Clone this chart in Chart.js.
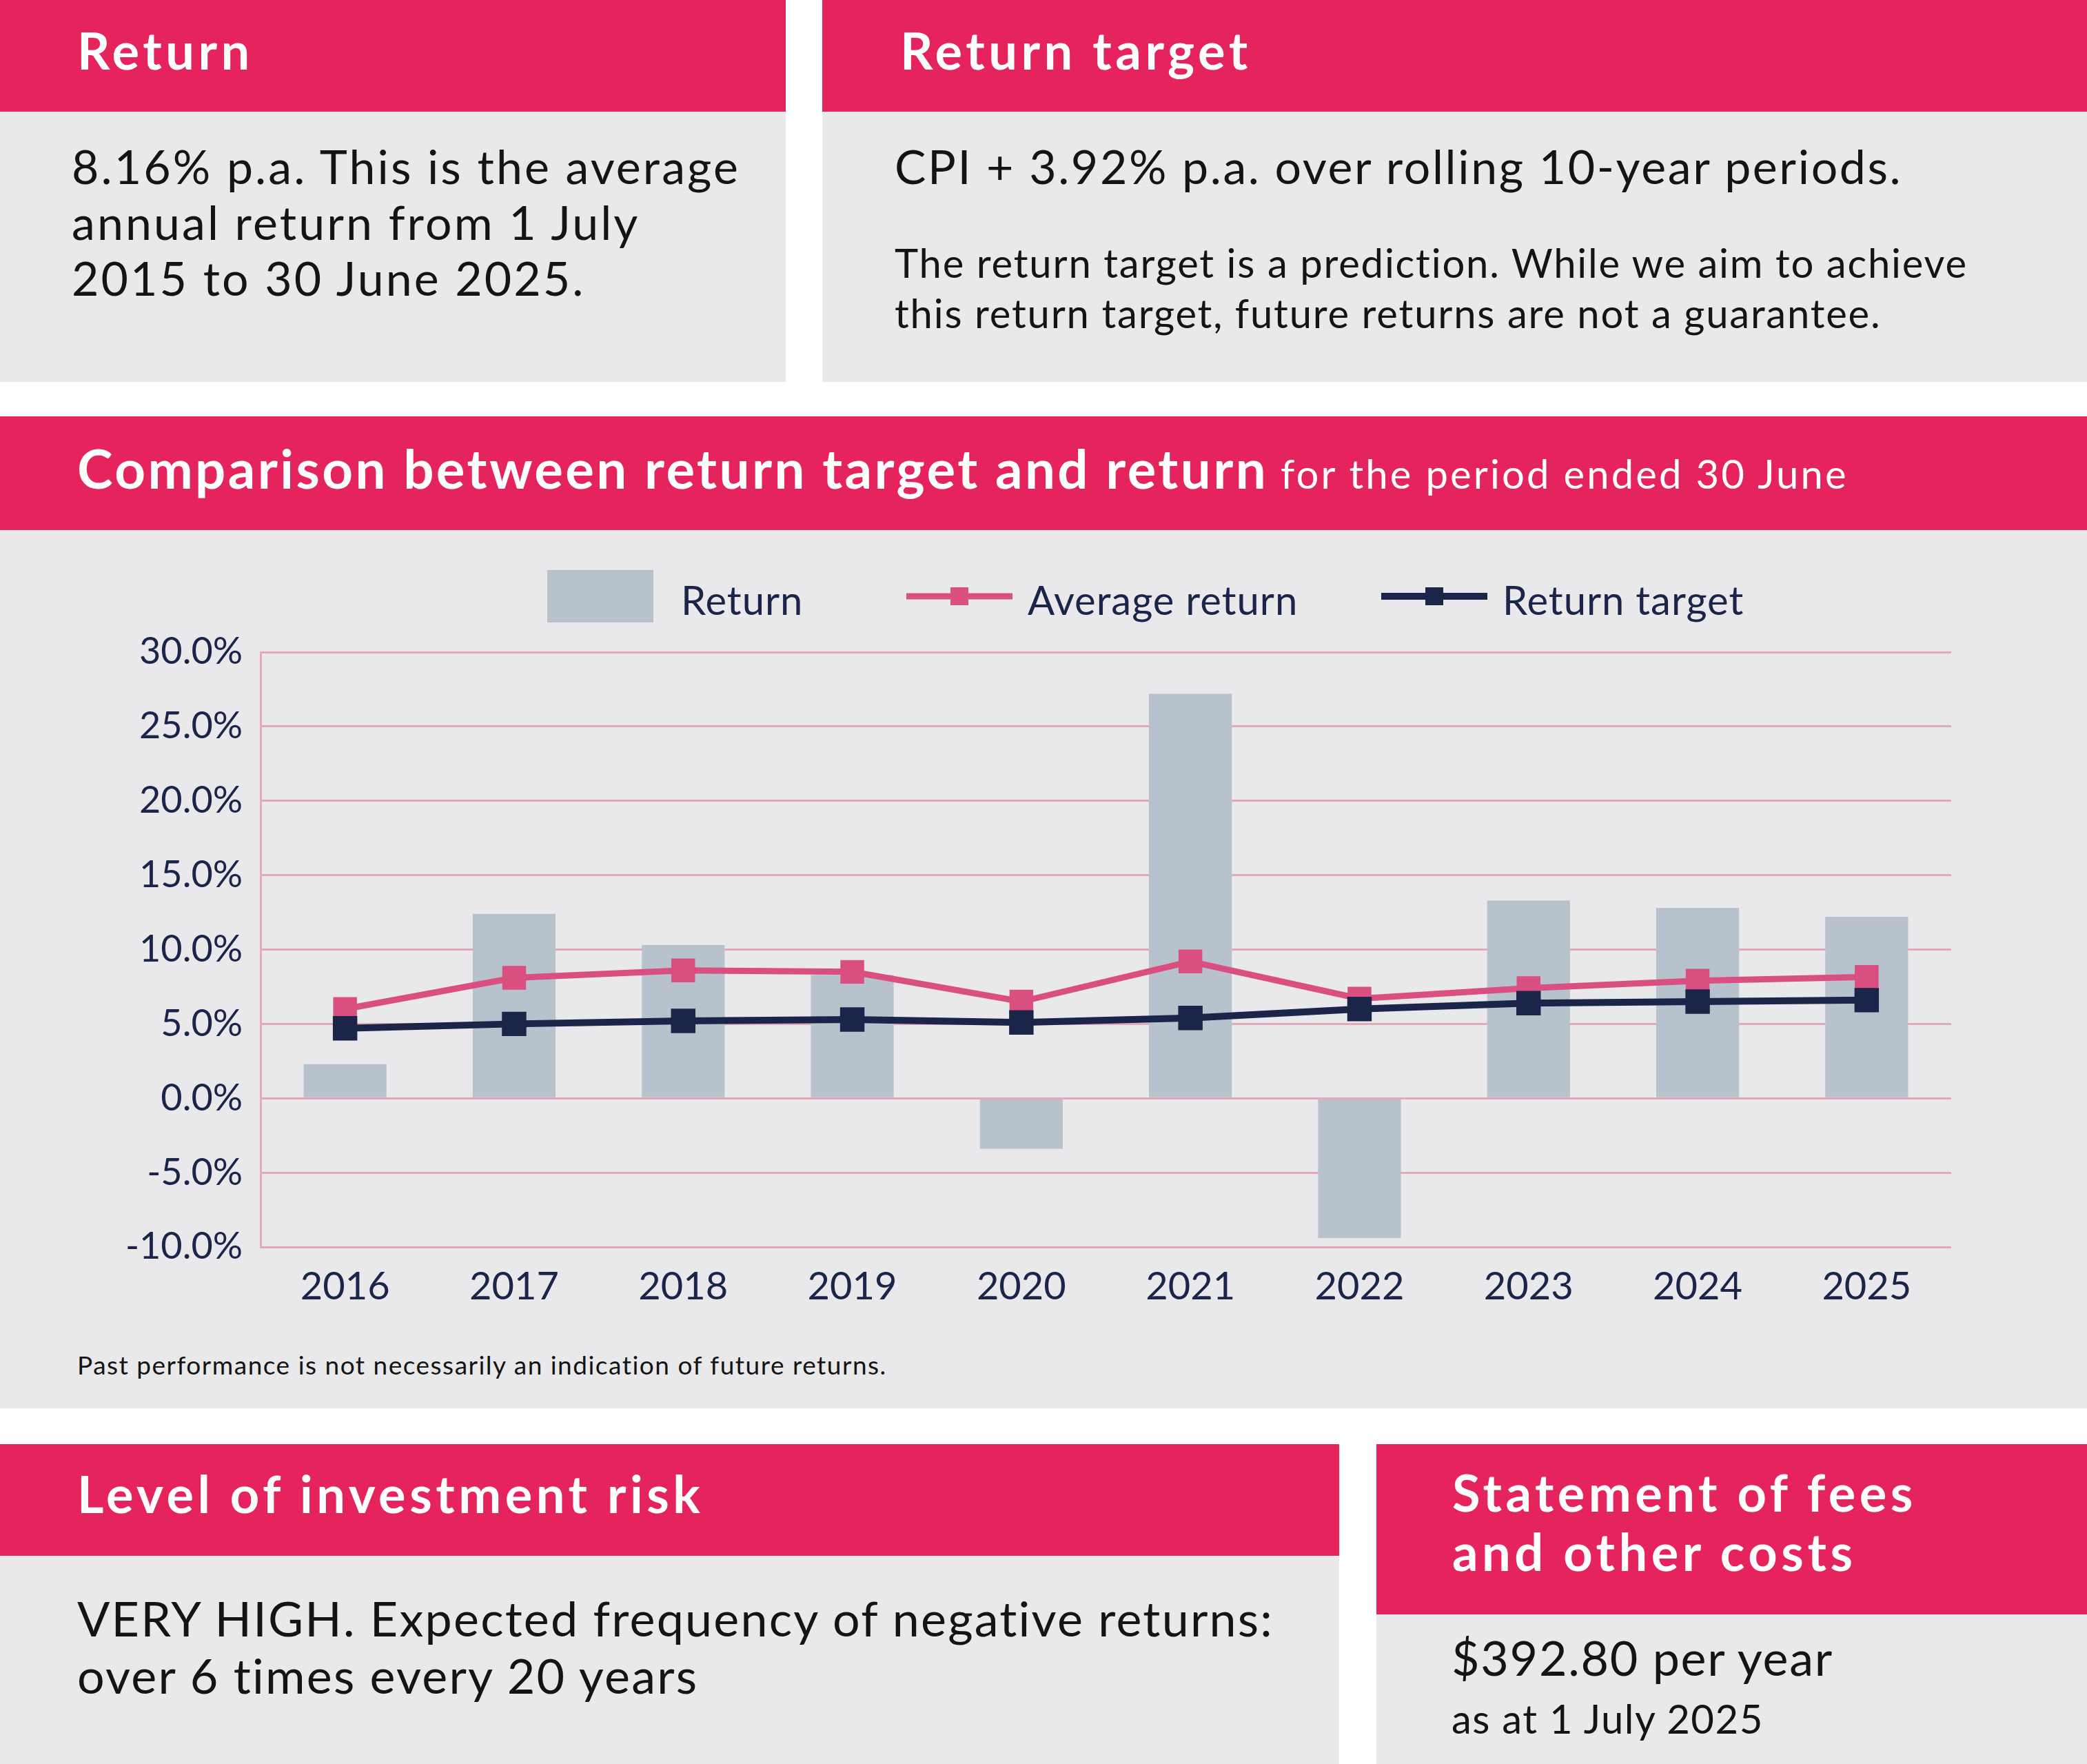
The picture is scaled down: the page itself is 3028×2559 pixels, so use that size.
<!DOCTYPE html>
<html>
<head>
<meta charset="utf-8">
<script src="https://cdn.jsdelivr.net/npm/chart.js@4.4.1/dist/chart.umd.min.js"></script>
<style>
  body { margin: 0; width: 3028px; height: 2559px; background: #fff; position: relative; font-family: Lato, "Noto Sans", sans-serif; overflow: hidden; }
  .box { position: absolute; background: #e9e9eb; }
  .head { position: absolute; background: #e5235d; color: #fff; font-weight: 700; }
  .txt { position: absolute; color: #141414; white-space: nowrap; }
  .ttl { font-size: 74px; font-weight: 700; color: #fff; letter-spacing: 5.5px; }
  #chartWrap { position: absolute; left: 0; top: 769px; width: 3028px; height: 1150px; }
</style>
</head>
<body>
<!-- top row -->
<div class="head" style="left:0;top:0;width:1140px;height:162px;"></div>
<div class="box" style="left:0;top:162px;width:1140px;height:392px;"></div>
<div class="txt ttl" style="left:112px;top:28px;">Return</div>
<div class="txt" style="left:104px;top:200px;font-size:68px;line-height:81px;letter-spacing:3.1px;">8.16% p.a. This is the average<br>annual return from 1 July<br>2015 to 30 June 2025.</div>

<div class="head" style="left:1193px;top:0;width:1835px;height:162px;"></div>
<div class="box" style="left:1193px;top:162px;width:1835px;height:392px;"></div>
<div class="txt ttl" style="left:1306px;top:28px;">Return target</div>
<div class="txt" style="left:1298px;top:200px;font-size:68px;letter-spacing:2.6px;">CPI + 3.92% p.a. over rolling 10-year periods.</div>
<div class="txt" style="left:1298px;top:344px;font-size:58px;line-height:73px;letter-spacing:1.8px;">The return target is a prediction. While we aim to achieve<br>this return target, future returns are not a guarantee.</div>

<!-- chart panel -->
<div class="head" style="left:0;top:604px;width:3028px;height:165px;"></div>
<div class="box" style="left:0;top:769px;width:3028px;height:1274px;"></div>
<div class="txt" style="left:112px;top:632px;color:#fff;"><span style="font-size:78px;font-weight:700;letter-spacing:3.4px;">Comparison between return target and return</span><span style="font-size:58px;letter-spacing:3.1px;"> for the period ended 30 June</span></div>
<div id="chartWrap"><canvas id="chart"></canvas></div>
<div class="txt" style="left:112px;top:1957px;font-size:37px;letter-spacing:1.5px;">Past performance is not necessarily an indication of future returns.</div>

<!-- bottom row -->
<div class="head" style="left:0;top:2095px;width:1943px;height:162px;"></div>
<div class="box" style="left:0;top:2257px;width:1943px;height:302px;"></div>
<div class="txt ttl" style="left:112px;top:2122px;">Level of investment risk</div>
<div class="txt" style="left:112px;top:2306px;font-size:70px;line-height:83px;letter-spacing:2.2px;">VERY HIGH. Expected frequency of negative returns:<br>over 6 times every 20 years</div>

<div class="head" style="left:1997px;top:2095px;width:1031px;height:247px;"></div>
<div class="box" style="left:1997px;top:2342px;width:1031px;height:217px;"></div>
<div class="txt ttl" style="left:2107px;top:2122px;line-height:86px;">Statement of fees<br>and other costs</div>
<div class="txt" style="left:2106px;top:2362px;font-size:70px;letter-spacing:1.7px;">$392.80 per year</div>
<div class="txt" style="left:2106px;top:2458px;font-size:58px;letter-spacing:1.5px;">as at 1 July 2025</div>

<script>
// Chart data.
const years = ['2016', '2017', '2018', '2019', '2020', '2021', '2022', '2023', '2024', '2025'];
const returnValues = [2.3, 12.4, 10.3, 8.3, -3.4, 27.2, -9.4, 13.3, 12.8, 12.2];
const averageReturn = [6.0, 8.1, 8.6, 8.5, 6.5, 9.2, 6.7, 7.4, 7.9, 8.16];
const returnTarget = [4.7, 5.0, 5.2, 5.3, 5.1, 5.4, 6.0, 6.4, 6.5, 6.6];
const yMin = -10;
const yMax = 30;
const yStep = 5;

const navy = '#1b2449';
const pink = '#d84f80';
const barGrey = '#b8c2cc';
const gridPink = '#e1a9ba';

// legend drawn by hand: box for bars, line + square for the lines
const legendStarts = [794, 1315, 2004];
const customLegend = {
    id: 'customLegend',
    afterDraw(chart) {
        let ctx = chart.ctx;
        let y = 96;
        ctx.save();
        ctx.font = '58px Lato, "Noto Sans", sans-serif';
        ctx.letterSpacing = '1px';
        ctx.textBaseline = 'middle';
        chart.data.datasets.forEach((ds, i) => {
            let x = legendStarts[i];
            let textX;
            if (ds.type === 'bar') {
                ctx.fillStyle = ds.backgroundColor;
                ctx.fillRect(x, y - 38, 154, 76);
                textX = x + 154 + 40;
            } else {
                ctx.strokeStyle = ds.borderColor;
                ctx.lineWidth = ds.borderWidth;
                ctx.beginPath();
                ctx.moveTo(x, y);
                ctx.lineTo(x + 154, y);
                ctx.stroke();
                ctx.fillStyle = ds.borderColor;
                ctx.fillRect(x + 77 - 13, y - 13, 26, 26);
                textX = x + 154 + 22;
            }
            ctx.fillStyle = navy;
            ctx.fillText(ds.label, textX, y + 8);
        });
        ctx.restore();
    }
};

let canvas = document.getElementById('chart');
let chart = new Chart(canvas, {
    data: {
        labels: years,
        datasets: [
            {type: 'bar', label: 'Return', data: returnValues,
             backgroundColor: barGrey, barPercentage: 0.49, categoryPercentage: 1, order: 3},
            {type: 'line', label: 'Average return', data: averageReturn,
             borderColor: pink, backgroundColor: pink, borderWidth: 9,
             pointStyle: 'rect', pointRadius: 18, pointHoverRadius: 18, order: 2},
            {type: 'line', label: 'Return target', data: returnTarget,
             borderColor: navy, backgroundColor: navy, borderWidth: 10,
             pointStyle: 'rect', pointRadius: 18, pointHoverRadius: 18, order: 1}
        ]
    },
    options: {
        responsive: true,
        maintainAspectRatio: false,
        animation: false,
        devicePixelRatio: 1,
        layout: {padding: {left: 0, right: 197, top: 177, bottom: 0}},
        plugins: {legend: {display: false}, tooltip: {enabled: false}},
        scales: {
            x: {
                grid: {display: false, drawTicks: false},
                border: {display: false},
                ticks: {color: navy, padding: 24, font: {size: 56, family: 'Lato'}},
                afterFit: scale => { scale.height = 110; }
            },
            y: {
                min: yMin,
                max: yMax,
                ticks: {stepSize: yStep, color: navy, padding: 26,
                        font: {size: 54, family: 'Lato'},
                        callback: v => v.toFixed(1) + '%'},
                grid: {color: gridPink, lineWidth: 3, drawTicks: false},
                border: {color: gridPink, width: 3},
                afterFit: scale => { scale.width = 378; }
            }
        }
    },
    plugins: [customLegend]
});
</script>
</body>
</html>
